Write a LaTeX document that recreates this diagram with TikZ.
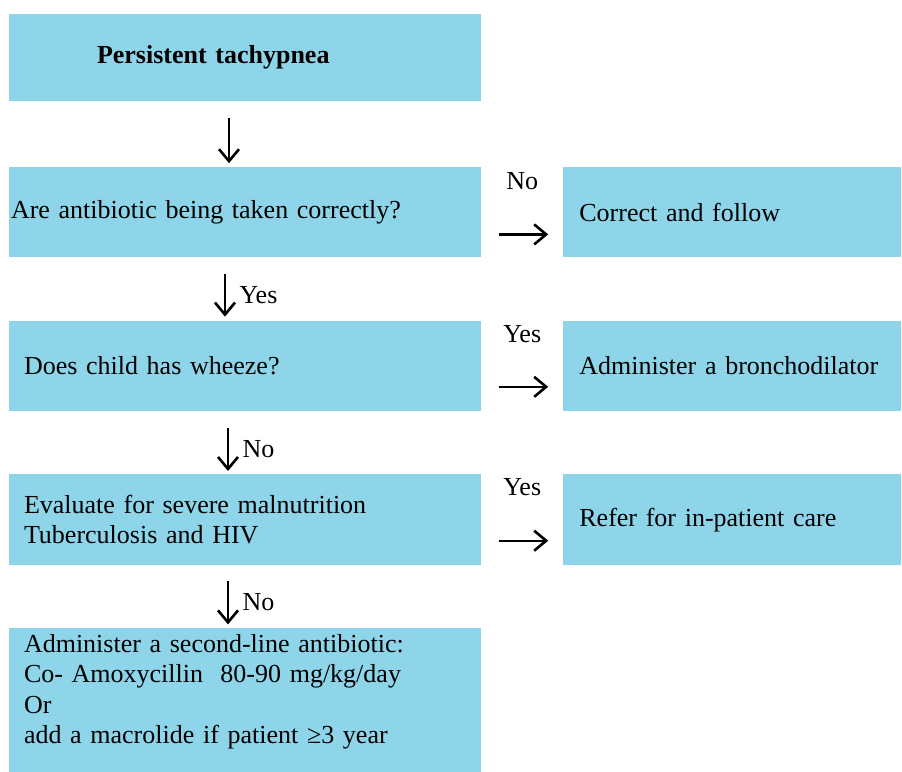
\documentclass[tikz,border=0pt]{standalone}
\usepackage{fontspec}
\setmainfont{Liberation Serif}
\usetikzlibrary{positioning, arrows.meta}
\definecolor{boxblue}{HTML}{8ED5EA}

\begin{document}
\begin{tikzpicture}[x=1pt, y=1pt, node distance=63pt,
    font=\fontsize{26}{30.3}\selectfont,
    qbox/.style={fill=boxblue, inner xsep=15pt, text width=442pt, minimum height=90pt, align=left},
    abox/.style={fill=boxblue, inner xsep=16pt, text width=306pt, minimum height=90pt, align=left},
    flow/.style={line width=2.4pt, -{Straight Barb[length=12pt,width=20pt,line width=2.6pt]}}]
	\useasboundingbox (0,0) rectangle (902,-771);
	\node[qbox, inner xsep=88pt, text width=296pt, minimum height=87pt] (top) at (245,-57.5) {\textbf{Persistent tachypnea}};
	\node[qbox, inner xsep=2pt, text width=468pt, below=66pt of top] (q1) {Are antibiotic being taken correctly?};
	\node[qbox, below=of q1] (q2) {Does child has wheeze?};
	\node[qbox, minimum height=91pt, below=of q2] (q3) {Evaluate for severe malnutrition\\Tuberculosis and HIV};
	\node[qbox, minimum height=145pt, below=62pt of q3] (q4) {Administer a second-line antibiotic:\\Co- Amoxycillin\ \ 80-90 mg/kg/day\\Or\\add a macrolide if patient ≥3 year\\[-8pt]\mbox{}};
	\node[abox, right=82pt of q1] (a1) {Correct and follow};
	\node[abox, right=82pt of q2] (a2) {Administer a bronchodilator};
	\node[abox, minimum height=91pt, right=82pt of q3] (a3) {Refer for in-patient care};
	% down the left column
	\draw[flow, shorten <=17pt, shorten >=4pt] ([xshift=-16pt]top.south) -- ([xshift=-16pt]q1.north);
	\draw[flow, shorten <=16pt, shorten >=4pt] ([xshift=-20pt]q1.south) -- node[right=10pt, pos=.6] {Yes} ([xshift=-20pt]q2.north);
	\draw[flow, shorten <=17pt, shorten >=3pt] ([xshift=-17pt]q2.south) -- node[right=10pt, pos=.6] {No} ([xshift=-17pt]q3.north);
	\draw[flow, shorten <=16pt, shorten >=3pt] ([xshift=-17pt]q3.south) -- node[right=10pt, pos=.6] {No} ([xshift=-17pt]q4.north);
	% across to the right
	\draw[flow, shorten <=18pt, shorten >=15pt] ([yshift=-22pt]q1.east) -- node[above=40pt] {No} ([yshift=-22pt]a1.west);
	\draw[flow, shorten <=18pt, shorten >=15pt] ([yshift=-21pt]q2.east) -- node[above=40pt] {Yes} ([yshift=-21pt]a2.west);
	\draw[flow, shorten <=18pt, shorten >=15pt] ([yshift=-21pt]q3.east) -- node[above=40pt] {Yes} ([yshift=-21pt]a3.west);
\end{tikzpicture}
\end{document}
